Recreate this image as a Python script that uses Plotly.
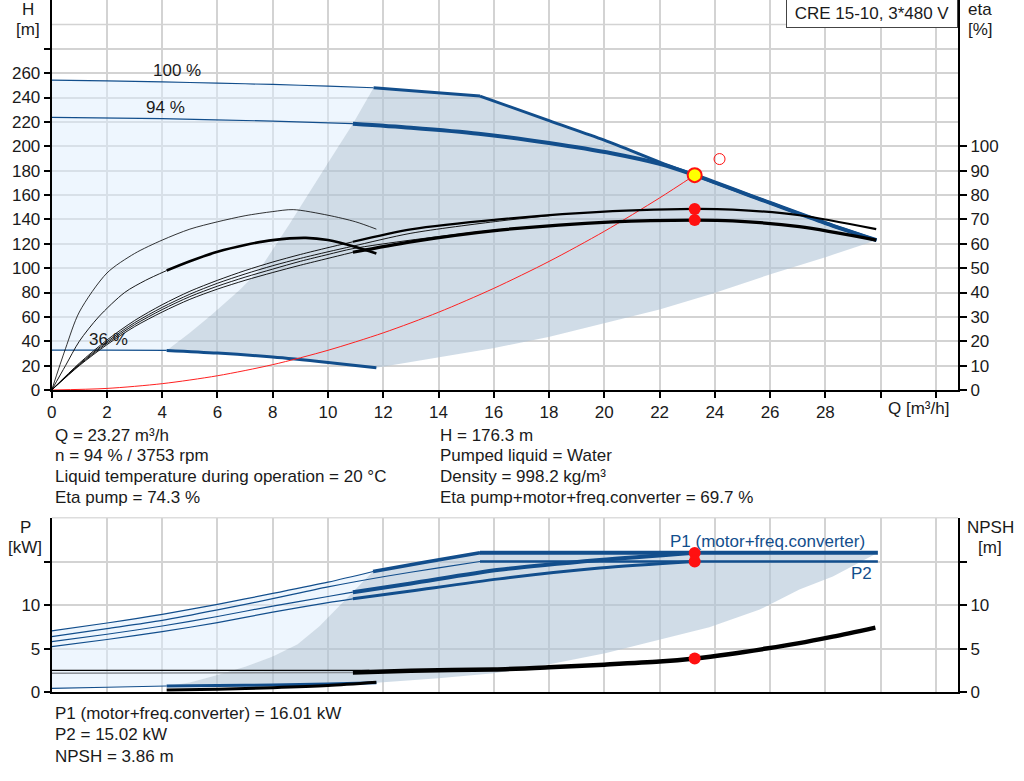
import plotly.graph_objects as go

# ------------------ curvas H (Q en m3/h, H en m) ------------------
q_h100 = [0, 2, 4, 6, 8, 10, 11.65, 13.5, 15.5]
h_h100 = [254.3, 253.7, 252.8, 251.8, 250.7, 249.3, 248.0, 244.8, 241.2]
q_lim = [15.5, 18, 20, 22, 23.27, 26, 28, 29.85]
h_lim = [241.2, 221, 205, 187, 176.3, 153.5, 137, 122.9]
q_h94 = [0, 4, 8, 10.9, 13, 15.45, 18, 20.3, 22, 23.27, 26, 28, 29.85]
h_h94 = [223.7, 222.6, 220.6, 218.5, 215.2, 210.3, 202.6, 194.0, 185.5, 176.3, 153.5, 137, 122.9]
q_h36 = [0, 2, 4.16, 6, 8, 10, 11.75]
h_h36 = [32.8, 32.8, 32.5, 30.3, 27.0, 22.6, 18.3]

# curva del sistema
q_sys = [0, 2, 4, 6, 8, 10, 12, 14, 16, 18, 20, 22, 23.27]
h_sys = [0, 1.3, 5.2, 11.7, 20.8, 32.6, 46.9, 63.8, 83.4, 105.5, 130.2, 157.6, 176.3]

# zona de trabajo (H)
q_dl = [4.16, 5.0, 5.8, 6.8, 7.5, 8.6, 10.06, 10.9, 11.65]
h_dl = [32.5, 47, 62, 82, 98, 136, 188.5, 218.5, 248.0]
q_db = [11.75, 14.04, 15.97, 18.02, 20.01, 22.0, 23.93, 26.1, 28.03, 29.85]
h_db = [18.3, 26.8, 34.2, 43.7, 54.6, 66.1, 79.2, 95.6, 109.2, 122.9]

# ------------------ curvas eta (%) ------------------
q_e36p = [0, 0.5, 1, 2, 3, 4, 5, 6, 7, 8, 8.74, 10, 11, 11.75]
e_e36p = [0, 17, 32, 48, 56, 61.5, 66, 69, 71.5, 73.2, 74, 71.7, 69, 66]
q_e36t = [0, 0.5, 1, 1.7, 2.64, 3.4, 4.16, 5, 6, 7, 8, 9.2, 10, 11, 11.75]
e_e36t = [0, 10, 20, 30, 40, 45, 49, 52.8, 56.7, 59.5, 61.5, 62.4, 61.5, 58.7, 56]
q_ep94 = [0, 1, 2, 3, 4, 5, 6, 7, 8, 9, 10, 10.9, 13, 16.2, 20.3, 23.27, 24.65, 27.06, 29.84]
e_ep94 = [0, 11, 20.5, 28.5, 35, 40.5, 45, 49, 52.5, 55.6, 58.4, 60.8, 65.9, 70, 73.4, 74.3, 74, 71.7, 66]
q_ep100 = [0, 1, 2, 3, 4, 5, 6, 7, 8, 9, 10, 10.9, 13, 16.2, 18]
e_ep100 = [0, 10.6, 19.8, 27.6, 33.9, 39.3, 43.8, 47.6, 51.0, 54.0, 56.7, 59.0, 64.3, 69.3, 71.5]
q_et100 = [0, 1, 2, 3, 4, 5, 6, 7, 8, 9, 10, 10.9, 13, 16.2, 18]
e_et100 = [0, 10.3, 19.2, 26.8, 33.0, 38.3, 42.6, 46.3, 49.6, 52.8, 55.6, 58.0, 61.5, 65.8, 67.3]
q_et94 = [0, 1, 2, 3, 4, 5, 6, 7, 8, 9, 10, 10.9, 13, 16.2, 20.3, 23.27, 24.65, 27.06, 29.84]
e_et94 = [0, 10, 18.6, 26, 32, 37.2, 41.4, 45, 48.2, 51.2, 54.0, 56.5, 60.8, 65.6, 69, 69.7, 69.4, 67, 61.5]

# ------------------ curvas P (kW) y NPSH (m) ------------------
q_p1a = [0, 2, 4, 6, 8, 10, 11.63, 13.5, 15.5]
p_p1a = [7.04, 7.95, 8.95, 10.1, 11.35, 12.65, 13.88, 14.95, 16.05]
q_p1lim = [15.5, 29.9]
p_p1lim = [16.05, 16.05]
q_p2a = [0, 2, 4, 6, 8, 10, 12.05, 14, 15.5]
p_p2a = [6.38, 7.3, 8.25, 9.45, 10.75, 12.1, 13.3, 14.3, 15.03]
q_p2lim = [15.5, 29.9]
p_p2lim = [15.03, 15.03]
q_p1b = [0, 2, 4, 6, 8, 10, 10.9, 13, 16.2, 19.83, 23.27]
p_p1b = [5.8, 6.65, 7.6, 8.7, 9.9, 11.0, 11.5, 12.5, 14.07, 15.2, 16.05]
q_p2b = [0, 2, 4, 6, 8, 10, 10.9, 13, 16.2, 19.83, 23.27]
p_p2b = [5.22, 6.05, 6.95, 8.0, 9.2, 10.3, 10.73, 11.64, 13.03, 14.27, 15.03]
q_b36 = [0, 2, 4.16, 6, 8, 10, 11.75]
p_b36 = [0.42, 0.55, 0.69, 0.75, 0.81, 0.92, 1.07]
q_k36 = [4.16, 6, 8, 10, 11.75]
p_k36 = [0.23, 0.33, 0.5, 0.75, 1.12]

q_npsh_k = [0, 11.5]
v_npsh_k = [2.5, 2.5]
q_npsh_g = [0, 10.9]
v_npsh_g = [2.15, 2.25]
q_npsh = [10.9, 13, 16, 18, 20, 22, 23.27, 24.5, 25.86, 27, 28.27, 29.81]
v_npsh = [2.25, 2.45, 2.6, 2.85, 3.15, 3.5, 3.86, 4.35, 5.0, 5.6, 6.38, 7.42]

# zona de trabajo (P)
q_pdl = [4.16, 5, 6, 7, 8, 8.9, 9.7, 10.5, 11.15, 11.63]
p_pdl = [0.69, 1.1, 1.95, 2.9, 4.1, 5.5, 7.6, 10.2, 12.2, 13.88]
q_pdb = [11.75, 14.0, 16.0, 18.02, 20.03, 22.04, 23.8, 25.6, 27.06, 28.27, 29.9]
p_pdb = [1.07, 1.58, 2.15, 3.19, 4.46, 6.07, 7.46, 9.46, 11.8, 13.3, 16.05]

# punto de trabajo
q_duty = 23.27
h_duty = 176.3
eta_pump = 74.3
eta_tot = 69.7
p1_duty = 16.01
p2_duty = 15.02
npsh_duty = 3.86
q_open, h_open = 24.17, 189.5

BLUE = '#124e8c'
LIGHT = 'rgba(221,237,253,0.5)'
DARK = 'rgba(177,197,215,0.6)'
GRID = '#d3d3d3'
FONT = 'Liberation Sans, Arial, sans-serif'
FS = 17
W, H = 1024, 781


def seg(q, v, lo, hi):
    pts = [(a, b) for a, b in zip(q, v) if lo <= a <= hi]
    return [p[0] for p in pts], [p[1] for p in pts]


def rev(a):
    return list(reversed(a))


def px(x, y):
    return x / W, 1 - y / H


fig = go.Figure()


def line(x, y, color, width, xa='x', ya='y', smooth=True):
    shape = dict(shape='spline', smoothing=0.8) if smooth else {}
    fig.add_trace(go.Scatter(x=x, y=y, mode='lines', xaxis=xa, yaxis=ya,
                             line=dict(color=color, width=width, **shape),
                             hoverinfo='skip', showlegend=False))


def area(x, y, color, xa='x', ya='y'):
    fig.add_trace(go.Scatter(x=x, y=y, mode='lines', fill='toself', fillcolor=color,
                             xaxis=xa, yaxis=ya, line=dict(width=0),
                             hoverinfo='skip', showlegend=False))


# ---------------- zonas superiores ----------------
qa, ha = seg(q_h100, h_h100, 0, 11.65)
qb, hb = seg(q_h36, h_h36, 0, 4.16)
area(qa + rev(q_dl) + rev(qb), ha + rev(h_dl) + rev(hb), LIGHT)
qa, ha = seg(q_h100, h_h100, 11.65, 15.5)
qb, hb = seg(q_h36, h_h36, 4.16, 11.75)
area(q_dl + qa + q_lim + rev(q_db) + rev(qb), h_dl + ha + h_lim + rev(h_db) + rev(hb), DARK)

# ---------------- zonas inferiores ----------------
qa, pa = seg(q_p1a, p_p1a, 0, 11.63)
qb, pb = seg(q_b36, p_b36, 0, 4.16)
area(qa + rev(q_pdl) + rev(qb), pa + rev(p_pdl) + rev(pb), LIGHT, 'x2', 'y3')
qa, pa = seg(q_p1a, p_p1a, 11.63, 15.5)
qb, pb = seg(q_b36, p_b36, 4.16, 11.75)
area(q_pdl + qa + q_p1lim + rev(q_pdb) + rev(qb), p_pdl + pa + p_p1lim + rev(p_pdb) + rev(pb),
     DARK, 'x2', 'y3')

# ---------------- curvas H ----------------
line(*seg(q_h100, h_h100, 0, 11.65), BLUE, 1.2)
line(*seg(q_h100, h_h100, 11.65, 15.5), BLUE, 3)
line(q_lim, h_lim, BLUE, 3)
line(*seg(q_h94, h_h94, 0, 10.9), BLUE, 1.2)
line(*seg(q_h94, h_h94, 10.9, 29.85), BLUE, 4)
line(*seg(q_h36, h_h36, 0, 4.16), BLUE, 1.2)
line(*seg(q_h36, h_h36, 4.16, 11.75), BLUE, 3)
line(q_sys, h_sys, '#ff2020', 1)

# ---------------- curvas eta ----------------
line(q_e36p, e_e36p, 'black', 0.8, 'x', 'y2')
line(*seg(q_e36t, e_e36t, 0, 4.16), 'black', 0.9, 'x', 'y2')
line(*seg(q_e36t, e_e36t, 4.16, 11.75), 'black', 2.6, 'x', 'y2')
line(q_ep100, e_ep100, 'black', 0.9, 'x', 'y2')
line(q_et100, e_et100, 'black', 0.9, 'x', 'y2')
line(*seg(q_ep94, e_ep94, 0, 10.9), 'black', 0.9, 'x', 'y2')
line(*seg(q_ep94, e_ep94, 10.9, 29.84), 'black', 2.2, 'x', 'y2')
line(*seg(q_et94, e_et94, 0, 10.9), 'black', 0.9, 'x', 'y2')
line(*seg(q_et94, e_et94, 10.9, 29.84), 'black', 3.2, 'x', 'y2')

# ---------------- curvas P ----------------
line(*seg(q_p1a, p_p1a, 0, 11.63), BLUE, 1.2, 'x2', 'y3')
line(*seg(q_p1a, p_p1a, 11.63, 15.5), BLUE, 3.5, 'x2', 'y3')
line(q_p1lim, p_p1lim, BLUE, 4, 'x2', 'y3')
line(q_p2a, p_p2a, BLUE, 1.2, 'x2', 'y3')
line(q_p2lim, p_p2lim, BLUE, 2.6, 'x2', 'y3')
line(*seg(q_p1b, p_p1b, 0, 10.9), BLUE, 1.2, 'x2', 'y3')
line(*seg(q_p1b, p_p1b, 10.9, 23.27), BLUE, 4, 'x2', 'y3')
line(*seg(q_p2b, p_p2b, 0, 10.9), BLUE, 1.2, 'x2', 'y3')
line(*seg(q_p2b, p_p2b, 10.9, 23.27), BLUE, 3, 'x2', 'y3')
line(*seg(q_b36, p_b36, 0, 4.16), BLUE, 1.2, 'x2', 'y3')
line(*seg(q_b36, p_b36, 4.16, 11.75), BLUE, 3, 'x2', 'y3')
line(q_k36, p_k36, 'black', 3, 'x2', 'y3')

# ---------------- NPSH ----------------
line(q_npsh_k, v_npsh_k, 'black', 1.2, 'x2', 'y4')
line(q_npsh_g, v_npsh_g, '#8a8f96', 1.5, 'x2', 'y4')
line(q_npsh, v_npsh, 'black', 4.5, 'x2', 'y4')


# ---------------- puntos ----------------
def dot(x, y, ya, xa='x', size=12, color='#ff1010', lcolor='#ff1010', lw=0):
    fig.add_trace(go.Scatter(x=[x], y=[y], mode='markers', xaxis=xa, yaxis=ya,
                             marker=dict(size=size, color=color, line=dict(color=lcolor, width=lw)),
                             hoverinfo='skip', showlegend=False))


dot(q_duty, eta_pump, 'y2')
dot(q_duty, eta_tot, 'y2')
dot(q_open, h_open, 'y', size=11, color='rgba(0,0,0,0)', lw=1)
dot(q_duty, h_duty, 'y', size=14, color='#ffff00', lw=2)
dot(q_duty, p1_duty, 'y3', 'x2')
dot(q_duty, p2_duty, 'y3', 'x2')
dot(q_duty, npsh_duty, 'y4', 'x2')

# ---------------- ejes ----------------
xdom = [51.7 / W, 958 / W]
top_dom = [1 - 390 / H, 1]
bot_dom = [1 - 692 / H, 1 - 517.5 / H]
tick_font = dict(family=FONT, size=FS, color='#1a1a1a')
q_ticks = list(range(0, 33, 2))
q_text = [str(v) if v <= 28 else '' for v in q_ticks]

axis_common = dict(showline=True, linecolor='black', linewidth=2, tickfont=tick_font,
                   zeroline=False, tickcolor='black', tickwidth=1.5, automargin=False)

fig.update_layout(
    width=W, height=H,
    margin=dict(l=0, r=0, t=0, b=0, autoexpand=False),
    paper_bgcolor='white', plot_bgcolor='white',
    font=dict(family=FONT, size=FS, color='#1a1a1a'),
    showlegend=False,
    xaxis=dict(domain=xdom, range=[0, 32.8], anchor='y', tickvals=q_ticks, ticktext=q_text,
               showgrid=True, gridcolor=GRID, gridwidth=1.5, ticks='outside', ticklen=6,
               **axis_common),
    yaxis=dict(domain=top_dom, range=[0, 320], anchor='x',
               tickvals=list(range(0, 300, 20)),
               ticktext=[str(v) if v < 280 else '' for v in range(0, 300, 20)],
               showgrid=True, gridcolor=GRID, gridwidth=1.5, ticks='outside', ticklen=6,
               **axis_common),
    yaxis2=dict(overlaying='y', side='right', anchor='x', range=[0, 160],
                tickvals=list(range(0, 110, 10)), showgrid=False, ticks='outside', ticklen=7,
                **axis_common),
    xaxis2=dict(domain=xdom, range=[0, 32.8], anchor='y3', tickvals=q_ticks,
                showticklabels=False, showgrid=True, gridcolor=GRID, gridwidth=1.5, ticks='',
                **axis_common),
    yaxis3=dict(domain=bot_dom, range=[0, 20.1], anchor='x2', tickvals=[0, 5, 10, 15],
                ticktext=['0', '5', '10', ''], showgrid=True, gridcolor=GRID, gridwidth=1.5,
                ticks='outside', ticklen=6, **axis_common),
    yaxis4=dict(overlaying='y3', side='right', anchor='x2', range=[0, 20.1],
                tickvals=[0, 5, 10, 15], ticktext=['0', '5', '10', ''], showgrid=False,
                ticks='outside', ticklen=7, **axis_common),
)

# linea de rejilla en 300 y borde superior del grafico inferior
fig.add_shape(type='line', xref='x', yref='y', x0=0, x1=32.8, y0=300, y1=300,
              line=dict(color=GRID, width=1.5), layer='below')
fig.add_shape(type='line', xref='x2', yref='y3', x0=0, x1=32.8, y0=20.1, y1=20.1,
              line=dict(color='#bbbbbb', width=1.5), layer='below')


# ---------------- textos ----------------
def text(x, y, s, anchor='left', color='#1a1a1a', size=FS):
    xp, yp = px(x, y)
    fig.add_annotation(x=xp, y=yp, xref='paper', yref='paper', text=s, showarrow=False,
                       xanchor=anchor, yanchor='middle', font=dict(family=FONT, size=size, color=color))


text(28, 9, 'H', 'center')
text(28, 29, '[m]', 'center')
text(980, 10, 'eta', 'center')
text(980, 30, '[%]', 'center')
text(25, 527, 'P', 'center')
text(25, 547, '[kW]', 'center')
text(990, 527, 'NPSH', 'center')
text(990, 547, '[m]', 'center')
text(918, 408, 'Q [m³/h]', 'center')

text(177, 70, '100 %', 'center')
text(165, 107, '94 %', 'center')
text(108, 339, '36 %', 'center')
text(767, 541, 'P1 (motor+freq.converter)', 'center', BLUE)
text(861, 573, 'P2', 'center', BLUE)

left_lines = ['Q = 23.27 m³/h', 'n = 94 % / 3753 rpm',
              'Liquid temperature during operation = 20 °C', 'Eta pump = 74.3 %']
right_lines = ['H = 176.3 m', 'Pumped liquid = Water', 'Density = 998.2 kg/m³',
               'Eta pump+motor+freq.converter = 69.7 %']
for i, (a, b) in enumerate(zip(left_lines, right_lines)):
    text(53, 435 + i * 20.7, a)
    text(438, 435 + i * 20.7, b)

bottom_lines = ['P1 (motor+freq.converter) = 16.01 kW', 'P2 = 15.02 kW', 'NPSH = 3.86 m']
for i, s in enumerate(bottom_lines):
    text(53, 713 + i * 21.5, s)

bx, by = px(872, 14)
fig.add_annotation(x=bx, y=by, xref='paper', yref='paper', text='CRE 15-10, 3*480 V',
                   showarrow=False, xanchor='center', yanchor='middle', width=168, height=25,
                   bordercolor='#444444', borderwidth=1, borderpad=1, bgcolor='white',
                   font=dict(family=FONT, size=FS, color='#1a1a1a'))

# quitar el margen por defecto del body para que el grafico quede en (0,0)
fig.write_html("out.html", config={'displayModeBar': False},
               post_script="document.body.style.margin='0px';")
